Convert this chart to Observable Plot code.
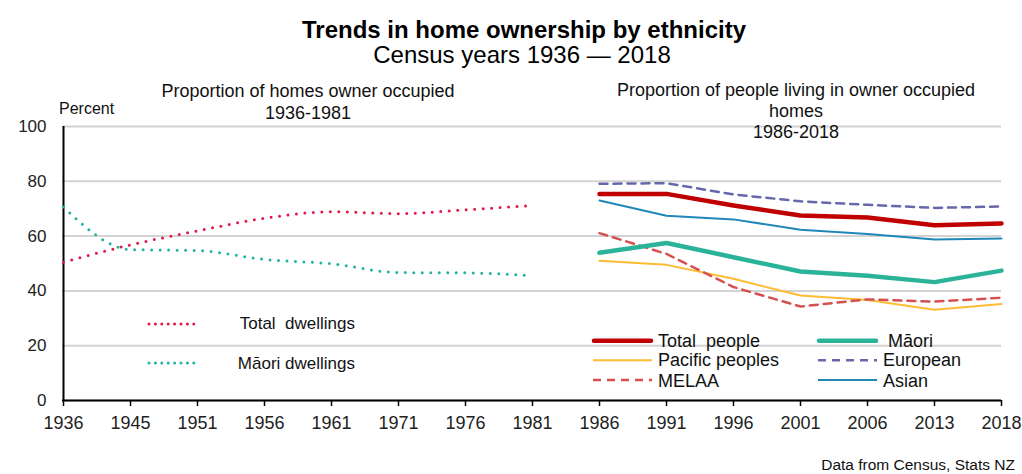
<!DOCTYPE html>
<html><head><meta charset="utf-8">
<script src="https://cdn.jsdelivr.net/npm/d3@7"></script>
<script src="https://cdn.jsdelivr.net/npm/@observablehq/plot@0.6"></script>
<style>
body{margin:0;background:#fff;font-family:"Liberation Sans",Arial,sans-serif;}
#wrap{position:relative;width:1022px;height:474px;overflow:hidden;background:#fff}
.t{position:absolute;white-space:pre;color:#111;line-height:1}
svg.ov{position:absolute;left:0;top:0;pointer-events:none}
</style></head><body><div id="wrap"></div>
<script>
// ---- data ----
const years = ["1936","1945","1951","1956","1961","1971","1976","1981","1986","1991","1996","2001","2006","2013","2018"];
const earlyYears = ["1936","1945","1951","1956","1961","1971","1976","1981"];
const lateYears = ["1986","1991","1996","2001","2006","2013","2018"];
const yTicks = [0,20,40,60,80,100];

const totalDwellings = [50.5, 56.8, 61.9, 66.5, 68.9, 68.2, 69.6, 71.2];
const maoriDwellings = [70.6, 55.1, 54.7, 51.5, 49.9, 46.7, 46.6, 45.5];

const totalPeople = [75.4, 75.4, 71.2, 67.5, 66.8, 64.0, 64.6];
const maori       = [53.9, 57.5, 52.3, 47.1, 45.5, 43.2, 47.4];
const pacific     = [51.0, 49.5, 44.4, 38.3, 36.7, 33.1, 35.2];
const european    = [79.1, 79.3, 75.2, 72.7, 71.4, 70.3, 70.8];
const melaa       = [61.1, 53.5, 41.4, 34.3, 36.9, 36.1, 37.5];
const asian       = [73.0, 67.4, 66.1, 62.3, 60.8, 58.8, 59.1];

// ---- styles ----
const C = {
  totalDw:"#E0194B", maoriDw:"#22B3A3",
  total:"#C00000", maori:"#2BB39A", pacific:"#FFBB33",
  european:"#6767AB", melaa:"#D65050", asian:"#1F88B8"
};
const rows = (xs, vs) => xs.map((x,i)=>({x, y:vs[i]}));
const dotted = {curve:"monotone-x", strokeWidth:3, strokeDasharray:"0 8.5", strokeLinecap:"round"};
const dashed = {strokeWidth:2.5, strokeDasharray:"8 6"};

const chart = Plot.plot({
  width:1022, height:474,
  marginTop:126, marginBottom:74, marginLeft:62, marginRight:21,
  style:{fontFamily:"Liberation Sans, Arial, sans-serif", fontSize:"16px", color:"#222", background:"transparent"},
  x:{type:"point", domain:years, padding:0},
  y:{domain:[0,100]},
  marks:[
    Plot.gridY(yTicks, {stroke:"#d3d3d3", strokeOpacity:1, strokeWidth:2}),
    Plot.axisY(yTicks, {tickSize:0, tickPadding:16, label:null, fontSize:17}),
    Plot.axisX(years, {tickSize:6, tickPadding:9.5, label:null, fontSize:18, stroke:"#000", strokeWidth:1.5}),
    Plot.ruleY([0], {stroke:"#000", strokeWidth:2}),
    Plot.ruleX([years[0]], {y1:0, y2:100, stroke:"#000", strokeWidth:2}),
    Plot.line(rows(earlyYears, totalDwellings), {x:"x", y:"y", stroke:C.totalDw, ...dotted}),
    Plot.line(rows(earlyYears, maoriDwellings), {x:"x", y:"y", stroke:C.maoriDw, ...dotted}),
    Plot.line(rows(lateYears, pacific), {x:"x", y:"y", stroke:C.pacific, strokeWidth:2}),
    Plot.line(rows(lateYears, melaa), {x:"x", y:"y", stroke:C.melaa, ...dashed}),
    Plot.line(rows(lateYears, asian), {x:"x", y:"y", stroke:C.asian, strokeWidth:2}),
    Plot.line(rows(lateYears, european), {x:"x", y:"y", stroke:C.european, ...dashed}),
    Plot.line(rows(lateYears, maori), {x:"x", y:"y", stroke:C.maori, strokeWidth:4.5}),
    Plot.line(rows(lateYears, totalPeople), {x:"x", y:"y", stroke:C.total, strokeWidth:4.5})
  ]
});
const wrap = document.getElementById("wrap");
chart.style.position = "absolute"; chart.style.left = "0"; chart.style.top = "0";
wrap.appendChild(chart);

function addText(txt, css){
  const d = document.createElement("div");
  d.className = "t"; d.textContent = txt;
  Object.assign(d.style, css);
  wrap.appendChild(d);
}
addText("Trends in home ownership by ethnicity", {left:"0", width:"1048px", textAlign:"center", top:"18px", fontSize:"24px", fontWeight:"bold", color:"#000"});
addText("Census years 1936 \u2014 2018", {left:"0", width:"1044px", textAlign:"center", top:"43px", fontSize:"24px", color:"#000"});
addText("Proportion of homes owner occupied\n1936-1981", {left:"108px", width:"400px", textAlign:"center", top:"81px", fontSize:"18px", lineHeight:"21.5px"});
addText("Proportion of people living in owner occupied\nhomes\n1986-2018", {left:"596px", width:"400px", textAlign:"center", top:"80px", fontSize:"18px", lineHeight:"21px"});
addText("Percent", {left:"59px", top:"101px", fontSize:"16px"});
addText("Data from Census, Stats NZ", {right:"7px", top:"457px", fontSize:"15.5px"});

// ---- legends (overlay svg) ----
const NS = "http://www.w3.org/2000/svg";
const ov = document.createElementNS(NS, "svg");
ov.setAttribute("class","ov"); ov.setAttribute("width","1022"); ov.setAttribute("height","474");
wrap.appendChild(ov);
function sw(x1,x2,y,stroke,w,dash,cap){
  const l = document.createElementNS(NS,"line");
  l.setAttribute("x1",x1); l.setAttribute("x2",x2); l.setAttribute("y1",y); l.setAttribute("y2",y);
  l.setAttribute("stroke",stroke); l.setAttribute("stroke-width",w);
  if(dash) l.setAttribute("stroke-dasharray",dash);
  if(cap) l.setAttribute("stroke-linecap",cap);
  ov.appendChild(l);
}
function tx(x,y,s,size,anchor){
  const t = document.createElementNS(NS,"text");
  t.setAttribute("x",x); t.setAttribute("y",y); t.setAttribute("font-size",size);
  t.setAttribute("font-family","Liberation Sans, Arial, sans-serif");
  t.setAttribute("fill","#111"); t.setAttribute("xml:space","preserve");
  t.style.whiteSpace = "pre";
  if(anchor) t.setAttribute("text-anchor",anchor);
  t.textContent = s; ov.appendChild(t);
}
// left legend
sw(149,200,324,C.totalDw,3,"0 6.4","round");
sw(149,200,363,C.maoriDw,3,"0 6.4","round");
tx(355,329,"Total  dwellings","17px","end");
tx(355,368.5,"M\u0101ori dwellings","17px","end");
// right legend
sw(594,651,340.7,C.total,4.5,null,"round");
sw(819,876,340.7,C.maori,4.5,null,"round");
sw(593,652,360.3,C.pacific,2);
sw(818,877,360.3,C.european,2.5,"8 6");
sw(593,652,380,C.melaa,2.5,"8 6");
sw(818,877,380,C.asian,2);
tx(658,346.5,"Total  people","18px");
tx(888,346.5,"M\u0101ori","18px");
tx(658,366,"Pacific peoples","18px");
tx(883,366,"European","18px");
tx(658,386.5,"MELAA","18px");
tx(883,386.5,"Asian","18px");
</script>
</body></html>
